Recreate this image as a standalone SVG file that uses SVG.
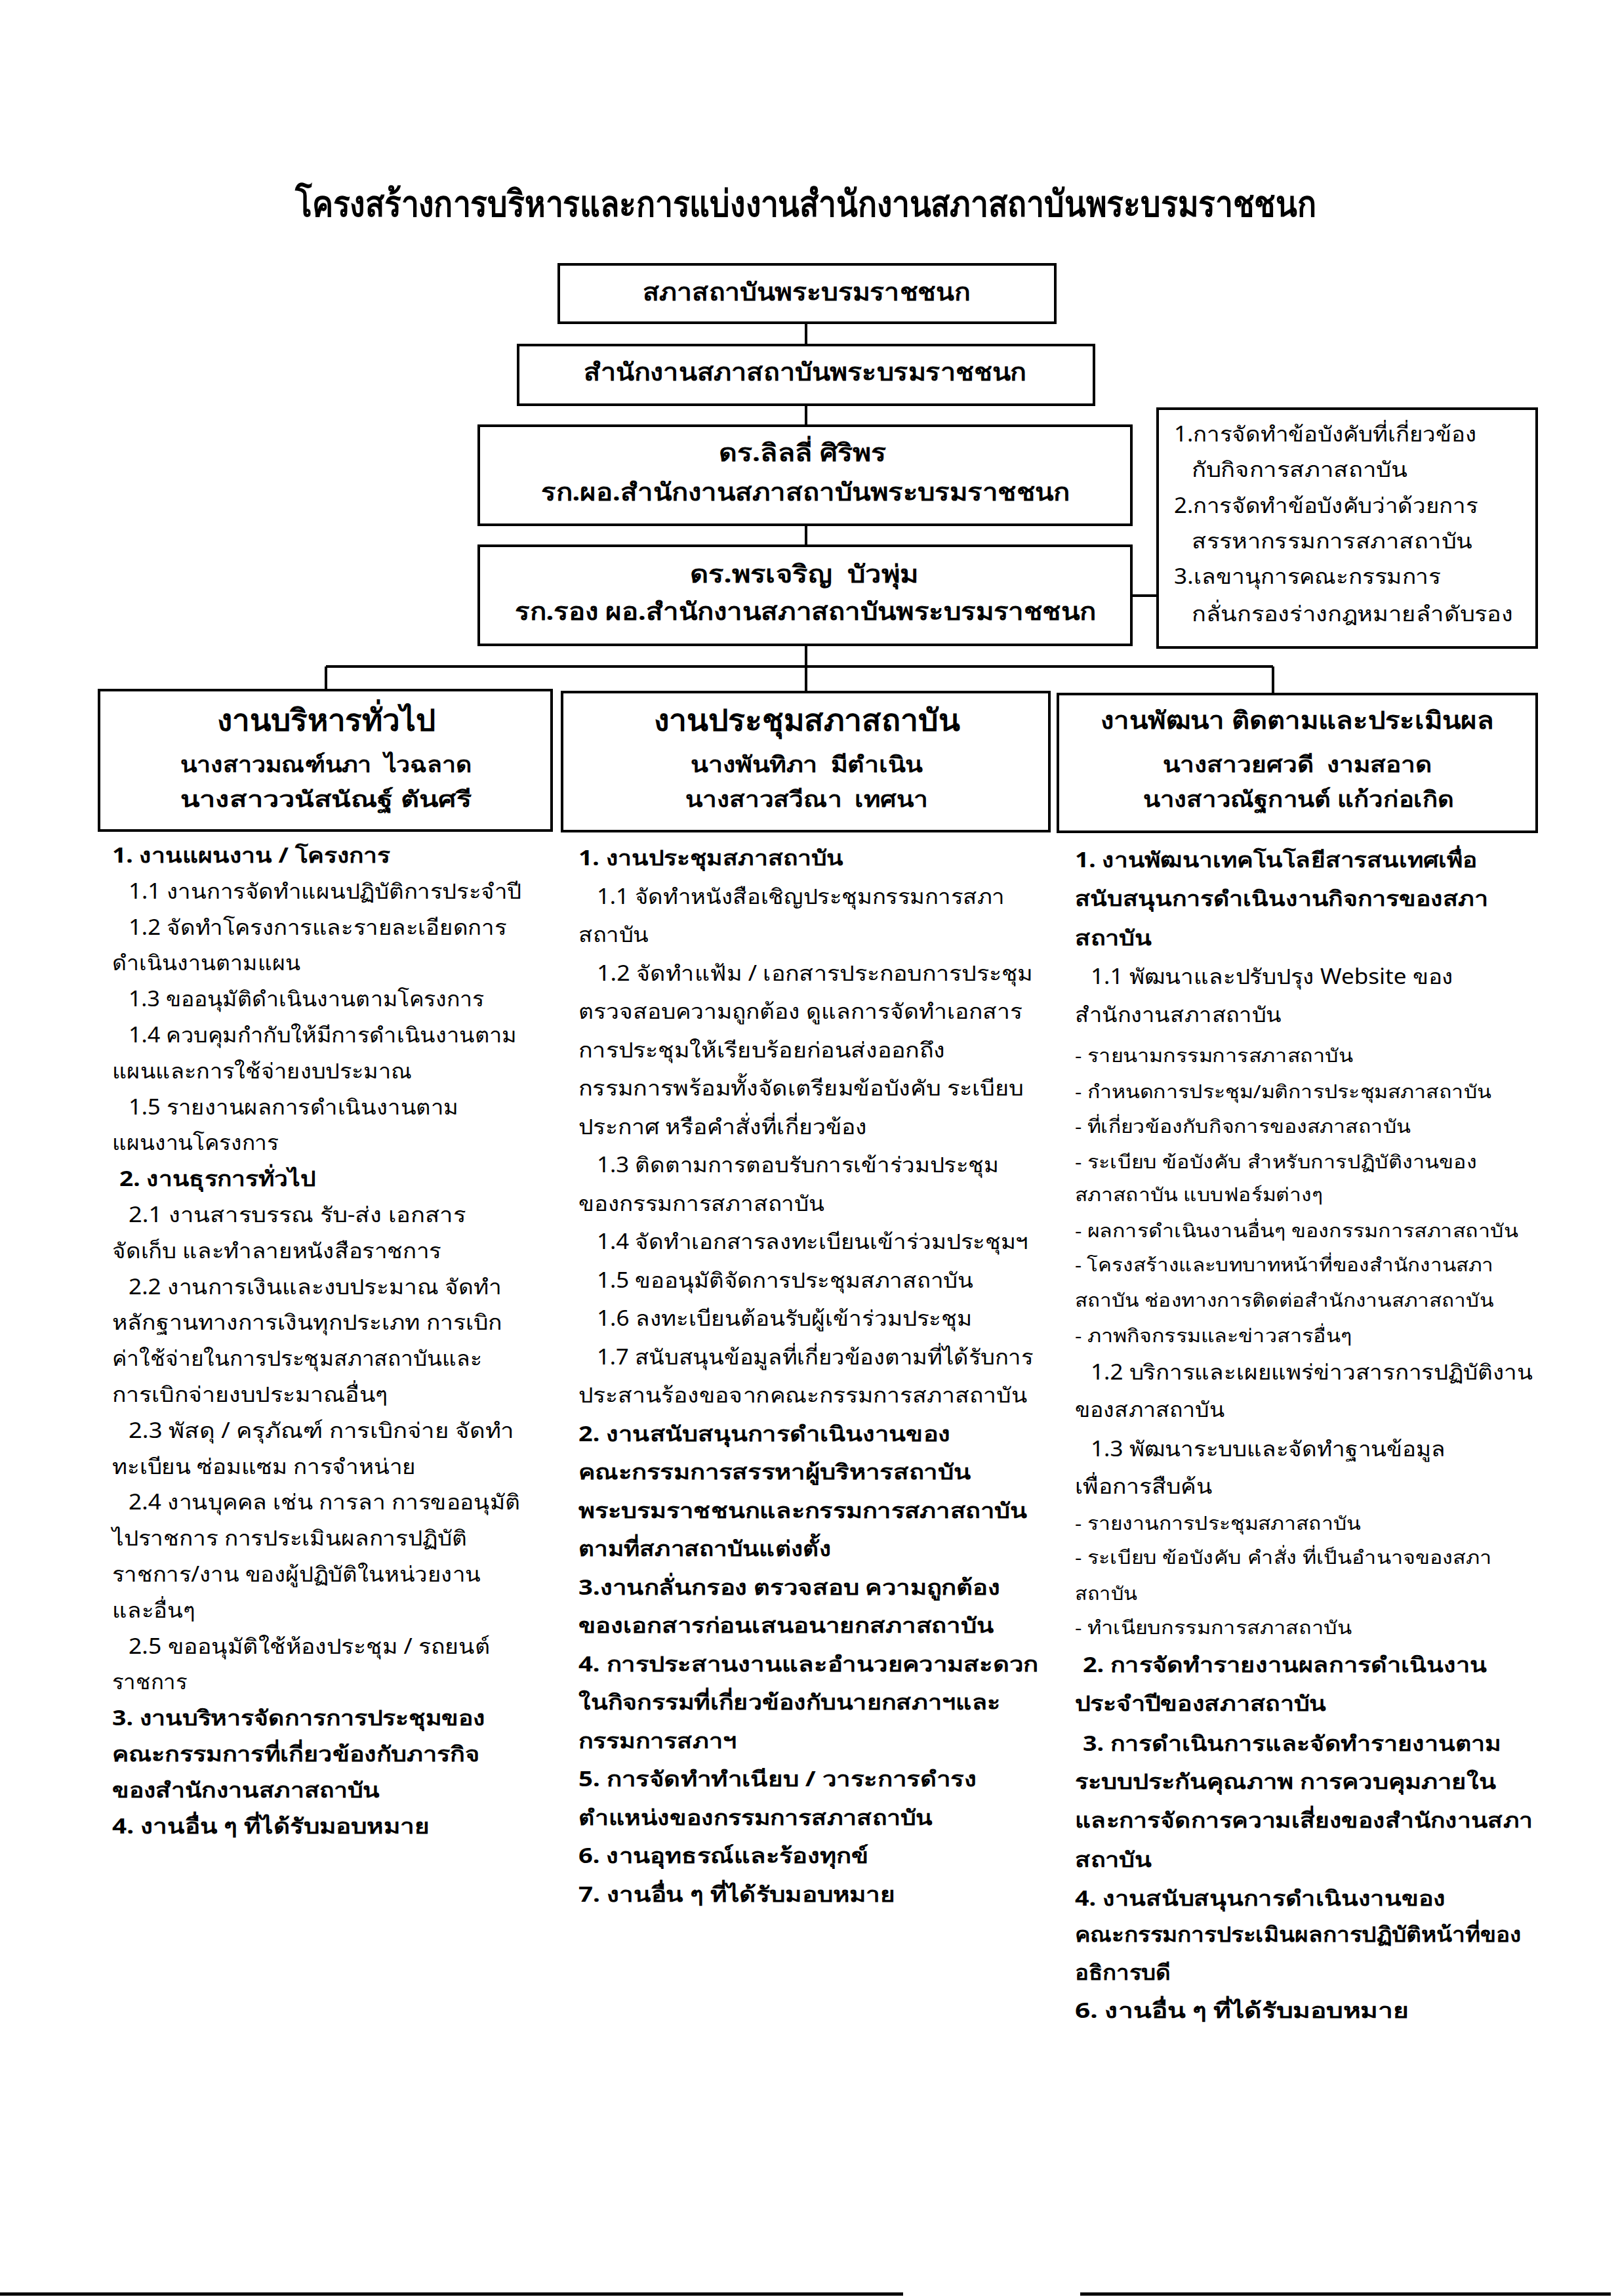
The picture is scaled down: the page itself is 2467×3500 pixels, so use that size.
<svg xmlns="http://www.w3.org/2000/svg" width="2467" height="3500" viewBox="0 0 2467 3500">
<style>
text{font-family:"Noto Sans","DejaVu Sans",sans-serif;fill:#000}
.t{font-size:56px;font-weight:bold}
.h{font-size:37px;font-weight:bold}
.ch{font-size:46px;font-weight:bold}
.ch3{font-size:37px;font-weight:bold}
.n{font-size:34px;font-weight:bold}
.r{font-size:32px}
.b{font-size:32px}
.bb{font-size:32px;font-weight:bold}
.s{font-size:28px}
.box{fill:#fff;stroke:#000;stroke-width:4}
.ln{fill:none;stroke:#000;stroke-width:4}
</style>
<rect width="2467" height="3500" fill="#fff"/>
<text class="t" x="450" y="330" textLength="1557" lengthAdjust="spacingAndGlyphs">โครงสร้างการบริหารและการแบ่งงานสำนักงานสภาสถาบันพระบรมราชชนก</text>

<g id="connectors">
<path class="ln" d="M1229 492V526M1229 617V649M1229 800V832M1725 908H1765M1229 983V1016M497 1016H1941M497 1016V1052M1229 1016V1055M1941 1016V1058"/>
</g>

<g id="council">
<rect class="box" x="852" y="403" width="757" height="89"/>
<text class="h" x="980" y="458" textLength="499" lengthAdjust="spacingAndGlyphs">สภาสถาบันพระบรมราชชนก</text>
</g>
<g id="office">
<rect class="box" x="790" y="526" width="878" height="91"/>
<text class="h" x="890" y="580" textLength="675" lengthAdjust="spacingAndGlyphs">สำนักงานสภาสถาบันพระบรมราชชนก</text>
</g>
<g id="director">
<rect class="box" x="730" y="649" width="995" height="151"/>
<text class="h" x="1096" y="703" textLength="255" lengthAdjust="spacingAndGlyphs">ดร.ลิลลี่ ศิริพร</text>
<text class="h" x="825" y="763" textLength="806" lengthAdjust="spacingAndGlyphs">รก.ผอ.สำนักงานสภาสถาบันพระบรมราชชนก</text>
</g>
<g id="deputy">
<rect class="box" x="730" y="832" width="995" height="151"/>
<text class="h" x="1052" y="888" textLength="348" lengthAdjust="spacingAndGlyphs">ดร.พรเจริญ&#160; บัวพุ่ม</text>
<text class="h" x="785" y="945" textLength="886" lengthAdjust="spacingAndGlyphs">รก.รอง ผอ.สำนักงานสภาสถาบันพระบรมราชชนก</text>
</g>
<g id="duties">
<rect class="box" x="1765" y="623" width="578" height="364"/>
<text class="r" x="1790" y="673" textLength="461" lengthAdjust="spacingAndGlyphs">1.การจัดทำข้อบังคับที่เกี่ยวข้อง</text>
<text class="r" x="1817" y="727" textLength="329" lengthAdjust="spacingAndGlyphs">กับกิจการสภาสถาบัน</text>
<text class="r" x="1790" y="782" textLength="463" lengthAdjust="spacingAndGlyphs">2.การจัดทำข้อบังคับว่าด้วยการ</text>
<text class="r" x="1817" y="836" textLength="428" lengthAdjust="spacingAndGlyphs">สรรหากรรมการสภาสถาบัน</text>
<text class="r" x="1790" y="890" textLength="407" lengthAdjust="spacingAndGlyphs">3.เลขานุการคณะกรรมการ</text>
<text class="r" x="1817" y="947" textLength="490" lengthAdjust="spacingAndGlyphs">กลั่นกรองร่างกฎหมายลำดับรอง</text>
</g>

<g id="col1">
<rect class="box" x="151" y="1052" width="690" height="214"/>
<text class="ch" x="331" y="1114" textLength="333" lengthAdjust="spacingAndGlyphs">งานบริหารทั่วไป</text>
<text class="n" x="275" y="1177" textLength="444" lengthAdjust="spacingAndGlyphs">นางสาวมณฑ์นภา&#160; ไวฉลาด</text>
<text class="n" x="275" y="1230" textLength="444" lengthAdjust="spacingAndGlyphs">นางสาววนัสนัณฐ์ ตันศรี</text>
<text class="bb" x="171" y="1315" textLength="424" lengthAdjust="spacingAndGlyphs">1. งานแผนงาน / โครงการ</text>
<text class="b" x="196" y="1370" textLength="599" lengthAdjust="spacingAndGlyphs">1.1 งานการจัดทำแผนปฏิบัติการประจำปี</text>
<text class="b" x="196" y="1425" textLength="576" lengthAdjust="spacingAndGlyphs">1.2 จัดทำโครงการและรายละเอียดการ</text>
<text class="b" x="171" y="1479" textLength="287" lengthAdjust="spacingAndGlyphs">ดำเนินงานตามแผน</text>
<text class="b" x="196" y="1534" textLength="542" lengthAdjust="spacingAndGlyphs">1.3 ขออนุมัติดำเนินงานตามโครงการ</text>
<text class="b" x="196" y="1589" textLength="592" lengthAdjust="spacingAndGlyphs">1.4 ควบคุมกำกับให้มีการดำเนินงานตาม</text>
<text class="b" x="171" y="1644" textLength="457" lengthAdjust="spacingAndGlyphs">แผนและการใช้จ่ายงบประมาณ</text>
<text class="b" x="196" y="1699" textLength="503" lengthAdjust="spacingAndGlyphs">1.5 รายงานผลการดำเนินงานตาม</text>
<text class="b" x="171" y="1753" textLength="254" lengthAdjust="spacingAndGlyphs">แผนงานโครงการ</text>
<text class="bb" x="182" y="1808" textLength="299" lengthAdjust="spacingAndGlyphs">2. งานธุรการทั่วไป</text>
<text class="b" x="196" y="1863" textLength="514" lengthAdjust="spacingAndGlyphs">2.1 งานสารบรรณ รับ-ส่ง เอกสาร</text>
<text class="b" x="171" y="1918" textLength="502" lengthAdjust="spacingAndGlyphs">จัดเก็บ และทำลายหนังสือราชการ</text>
<text class="b" x="196" y="1973" textLength="569" lengthAdjust="spacingAndGlyphs">2.2 งานการเงินและงบประมาณ จัดทำ</text>
<text class="b" x="171" y="2027" textLength="594" lengthAdjust="spacingAndGlyphs">หลักฐานทางการเงินทุกประเภท การเบิก</text>
<text class="b" x="171" y="2082" textLength="564" lengthAdjust="spacingAndGlyphs">ค่าใช้จ่ายในการประชุมสภาสถาบันและ</text>
<text class="b" x="171" y="2137" textLength="420" lengthAdjust="spacingAndGlyphs">การเบิกจ่ายงบประมาณอื่นๆ</text>
<text class="b" x="196" y="2192" textLength="588" lengthAdjust="spacingAndGlyphs">2.3 พัสดุ / ครุภัณฑ์ การเบิกจ่าย จัดทำ</text>
<text class="b" x="171" y="2247" textLength="463" lengthAdjust="spacingAndGlyphs">ทะเบียน ซ่อมแซม การจำหน่าย</text>
<text class="b" x="196" y="2301" textLength="597" lengthAdjust="spacingAndGlyphs">2.4 งานบุคคล เช่น การลา การขออนุมัติ</text>
<text class="b" x="171" y="2356" textLength="541" lengthAdjust="spacingAndGlyphs">ไปราชการ การประเมินผลการปฏิบัติ</text>
<text class="b" x="171" y="2411" textLength="562" lengthAdjust="spacingAndGlyphs">ราชการ/งาน ของผู้ปฏิบัติในหน่วยงาน</text>
<text class="b" x="171" y="2466" textLength="126" lengthAdjust="spacingAndGlyphs">และอื่นๆ</text>
<text class="b" x="196" y="2521" textLength="551" lengthAdjust="spacingAndGlyphs">2.5 ขออนุมัติใช้ห้องประชุม / รถยนต์</text>
<text class="b" x="171" y="2575" textLength="114" lengthAdjust="spacingAndGlyphs">ราชการ</text>
<text class="bb" x="171" y="2630" textLength="569" lengthAdjust="spacingAndGlyphs">3. งานบริหารจัดการการประชุมของ</text>
<text class="bb" x="171" y="2685" textLength="560" lengthAdjust="spacingAndGlyphs">คณะกรรมการที่เกี่ยวข้องกับภารกิจ</text>
<text class="bb" x="171" y="2740" textLength="408" lengthAdjust="spacingAndGlyphs">ของสำนักงานสภาสถาบัน</text>
<text class="bb" x="171" y="2795" textLength="484" lengthAdjust="spacingAndGlyphs">4. งานอื่น ๆ ที่ได้รับมอบหมาย</text>
</g>

<g id="col2">
<rect class="box" x="857" y="1055" width="743" height="212"/>
<text class="ch" x="997" y="1114" textLength="466" lengthAdjust="spacingAndGlyphs">งานประชุมสภาสถาบัน</text>
<text class="n" x="1053" y="1177" textLength="354" lengthAdjust="spacingAndGlyphs">นางพันทิภา&#160; มีตำเนิน</text>
<text class="n" x="1045" y="1230" textLength="370" lengthAdjust="spacingAndGlyphs">นางสาวสวีณา&#160; เทศนา</text>
<text class="bb" x="882" y="1319" textLength="404" lengthAdjust="spacingAndGlyphs">1. งานประชุมสภาสถาบัน</text>
<text class="b" x="910" y="1378" textLength="622" lengthAdjust="spacingAndGlyphs">1.1 จัดทำหนังสือเชิญประชุมกรรมการสภา</text>
<text class="b" x="882" y="1436" textLength="107" lengthAdjust="spacingAndGlyphs">สถาบัน</text>
<text class="b" x="910" y="1495" textLength="665" lengthAdjust="spacingAndGlyphs">1.2 จัดทำแฟ้ม / เอกสารประกอบการประชุม</text>
<text class="b" x="882" y="1553" textLength="677" lengthAdjust="spacingAndGlyphs">ตรวจสอบความถูกต้อง ดูแลการจัดทำเอกสาร</text>
<text class="b" x="882" y="1612" textLength="559" lengthAdjust="spacingAndGlyphs">การประชุมให้เรียบร้อยก่อนส่งออกถึง</text>
<text class="b" x="882" y="1670" textLength="679" lengthAdjust="spacingAndGlyphs">กรรมการพร้อมทั้งจัดเตรียมข้อบังคับ ระเบียบ</text>
<text class="b" x="882" y="1729" textLength="440" lengthAdjust="spacingAndGlyphs">ประกาศ หรือคำสั่งที่เกี่ยวข้อง</text>
<text class="b" x="910" y="1787" textLength="613" lengthAdjust="spacingAndGlyphs">1.3 ติดตามการตอบรับการเข้าร่วมประชุม</text>
<text class="b" x="882" y="1846" textLength="375" lengthAdjust="spacingAndGlyphs">ของกรรมการสภาสถาบัน</text>
<text class="b" x="910" y="1904" textLength="658" lengthAdjust="spacingAndGlyphs">1.4 จัดทำเอกสารลงทะเบียนเข้าร่วมประชุมฯ</text>
<text class="b" x="910" y="1963" textLength="574" lengthAdjust="spacingAndGlyphs">1.5 ขออนุมัติจัดการประชุมสภาสถาบัน</text>
<text class="b" x="910" y="2021" textLength="572" lengthAdjust="spacingAndGlyphs">1.6 ลงทะเบียนต้อนรับผู้เข้าร่วมประชุม</text>
<text class="b" x="910" y="2080" textLength="665" lengthAdjust="spacingAndGlyphs">1.7 สนับสนุนข้อมูลที่เกี่ยวข้องตามที่ได้รับการ</text>
<text class="b" x="882" y="2138" textLength="684" lengthAdjust="spacingAndGlyphs">ประสานร้องขอจากคณะกรรมการสภาสถาบัน</text>
<text class="bb" x="882" y="2197" textLength="567" lengthAdjust="spacingAndGlyphs">2. งานสนับสนุนการดำเนินงานของ</text>
<text class="bb" x="882" y="2255" textLength="598" lengthAdjust="spacingAndGlyphs">คณะกรรมการสรรหาผู้บริหารสถาบัน</text>
<text class="bb" x="882" y="2314" textLength="684" lengthAdjust="spacingAndGlyphs">พระบรมราชชนกและกรรมการสภาสถาบัน</text>
<text class="bb" x="882" y="2372" textLength="385" lengthAdjust="spacingAndGlyphs">ตามที่สภาสถาบันแต่งตั้ง</text>
<text class="bb" x="882" y="2431" textLength="643" lengthAdjust="spacingAndGlyphs">3.งานกลั่นกรอง ตรวจสอบ ความถูกต้อง</text>
<text class="bb" x="882" y="2489" textLength="633" lengthAdjust="spacingAndGlyphs">ของเอกสารก่อนเสนอนายกสภาสถาบัน</text>
<text class="bb" x="882" y="2548" textLength="701" lengthAdjust="spacingAndGlyphs">4. การประสานงานและอำนวยความสะดวก</text>
<text class="bb" x="882" y="2606" textLength="643" lengthAdjust="spacingAndGlyphs">ในกิจกรรมที่เกี่ยวข้องกับนายกสภาฯและ</text>
<text class="bb" x="882" y="2665" textLength="241" lengthAdjust="spacingAndGlyphs">กรรมการสภาฯ</text>
<text class="bb" x="882" y="2723" textLength="607" lengthAdjust="spacingAndGlyphs">5. การจัดทำทำเนียบ / วาระการดำรง</text>
<text class="bb" x="882" y="2782" textLength="540" lengthAdjust="spacingAndGlyphs">ตำแหน่งของกรรมการสภาสถาบัน</text>
<text class="bb" x="882" y="2840" textLength="442" lengthAdjust="spacingAndGlyphs">6. งานอุทธรณ์และร้องทุกข์</text>
<text class="bb" x="882" y="2899" textLength="483" lengthAdjust="spacingAndGlyphs">7. งานอื่น ๆ ที่ได้รับมอบหมาย</text>
</g>

<g id="col3">
<rect class="box" x="1613" y="1058" width="730" height="210"/>
<text class="ch3" x="1678" y="1111" textLength="600" lengthAdjust="spacingAndGlyphs">งานพัฒนา ติดตามและประเมินผล</text>
<text class="n" x="1773" y="1177" textLength="410" lengthAdjust="spacingAndGlyphs">นางสาวยศวดี&#160; งามสอาด</text>
<text class="n" x="1743" y="1230" textLength="474" lengthAdjust="spacingAndGlyphs">นางสาวณัฐกานต์ แก้วก่อเกิด</text>
<text class="bb" x="1639" y="1322" textLength="613" lengthAdjust="spacingAndGlyphs">1. งานพัฒนาเทคโนโลยีสารสนเทศเพื่อ</text>
<text class="bb" x="1639" y="1381" textLength="630" lengthAdjust="spacingAndGlyphs">สนับสนุนการดำเนินงานกิจการของสภา</text>
<text class="bb" x="1639" y="1441" textLength="117" lengthAdjust="spacingAndGlyphs">สถาบัน</text>
<text class="b" x="1663" y="1500" textLength="553" lengthAdjust="spacingAndGlyphs">1.1 พัฒนาและปรับปรุง Website ของ</text>
<text class="b" x="1639" y="1558" textLength="315" lengthAdjust="spacingAndGlyphs">สำนักงานสภาสถาบัน</text>
<text class="s" x="1639" y="1619" textLength="424" lengthAdjust="spacingAndGlyphs">- รายนามกรรมการสภาสถาบัน</text>
<text class="s" x="1639" y="1674" textLength="635" lengthAdjust="spacingAndGlyphs">- กำหนดการประชุม/มติการประชุมสภาสถาบัน</text>
<text class="s" x="1639" y="1727" textLength="512" lengthAdjust="spacingAndGlyphs">- ที่เกี่ยวข้องกับกิจการของสภาสถาบัน</text>
<text class="s" x="1639" y="1781" textLength="613" lengthAdjust="spacingAndGlyphs">- ระเบียบ ข้อบังคับ สำหรับการปฏิบัติงานของ</text>
<text class="s" x="1639" y="1831" textLength="378" lengthAdjust="spacingAndGlyphs">สภาสถาบัน แบบฟอร์มต่างๆ</text>
<text class="s" x="1639" y="1886" textLength="676" lengthAdjust="spacingAndGlyphs">- ผลการดำเนินงานอื่นๆ ของกรรมการสภาสถาบัน</text>
<text class="s" x="1639" y="1938" textLength="638" lengthAdjust="spacingAndGlyphs">- โครงสร้างและบทบาทหน้าที่ของสำนักงานสภา</text>
<text class="s" x="1639" y="1992" textLength="638" lengthAdjust="spacingAndGlyphs">สถาบัน ช่องทางการติดต่อสำนักงานสภาสถาบัน</text>
<text class="s" x="1639" y="2046" textLength="422" lengthAdjust="spacingAndGlyphs">- ภาพกิจกรรมและข่าวสารอื่นๆ</text>
<text class="b" x="1663" y="2103" textLength="674" lengthAdjust="spacingAndGlyphs">1.2 บริการและเผยแพร่ข่าวสารการปฏิบัติงาน</text>
<text class="b" x="1639" y="2160" textLength="228" lengthAdjust="spacingAndGlyphs">ของสภาสถาบัน</text>
<text class="b" x="1663" y="2220" textLength="541" lengthAdjust="spacingAndGlyphs">1.3 พัฒนาระบบและจัดทำฐานข้อมูล</text>
<text class="b" x="1639" y="2277" textLength="209" lengthAdjust="spacingAndGlyphs">เพื่อการสืบค้น</text>
<text class="s" x="1639" y="2332" textLength="436" lengthAdjust="spacingAndGlyphs">- รายงานการประชุมสภาสถาบัน</text>
<text class="s" x="1639" y="2384" textLength="635" lengthAdjust="spacingAndGlyphs">- ระเบียบ ข้อบังคับ คำสั่ง ที่เป็นอำนาจของสภา</text>
<text class="s" x="1639" y="2439" textLength="95" lengthAdjust="spacingAndGlyphs">สถาบัน</text>
<text class="s" x="1639" y="2491" textLength="422" lengthAdjust="spacingAndGlyphs">- ทำเนียบกรรมการสภาสถาบัน</text>
<text class="bb" x="1651" y="2549" textLength="616" lengthAdjust="spacingAndGlyphs">2. การจัดทำรายงานผลการดำเนินงาน</text>
<text class="bb" x="1639" y="2608" textLength="383" lengthAdjust="spacingAndGlyphs">ประจำปีของสภาสถาบัน</text>
<text class="bb" x="1651" y="2669" textLength="638" lengthAdjust="spacingAndGlyphs">3. การดำเนินการและจัดทำรายงานตาม</text>
<text class="bb" x="1639" y="2727" textLength="642" lengthAdjust="spacingAndGlyphs">ระบบประกันคุณภาพ การควบคุมภายใน</text>
<text class="bb" x="1639" y="2786" textLength="698" lengthAdjust="spacingAndGlyphs">และการจัดการความเสี่ยงของสำนักงานสภา</text>
<text class="bb" x="1639" y="2846" textLength="117" lengthAdjust="spacingAndGlyphs">สถาบัน</text>
<text class="bb" x="1639" y="2905" textLength="565" lengthAdjust="spacingAndGlyphs">4. งานสนับสนุนการดำเนินงานของ</text>
<text class="bb" x="1639" y="2960" textLength="681" lengthAdjust="spacingAndGlyphs">คณะกรรมการประเมินผลการปฏิบัติหน้าที่ของ</text>
<text class="bb" x="1639" y="3018" textLength="146" lengthAdjust="spacingAndGlyphs">อธิการบดี</text>
<text class="bb" x="1639" y="3076" textLength="509" lengthAdjust="spacingAndGlyphs">6. งานอื่น ๆ ที่ได้รับมอบหมาย</text>
</g>

<path d="M0 3497H1377M1647 3497H2456" stroke="#000" stroke-width="5" fill="none"/>
</svg>
